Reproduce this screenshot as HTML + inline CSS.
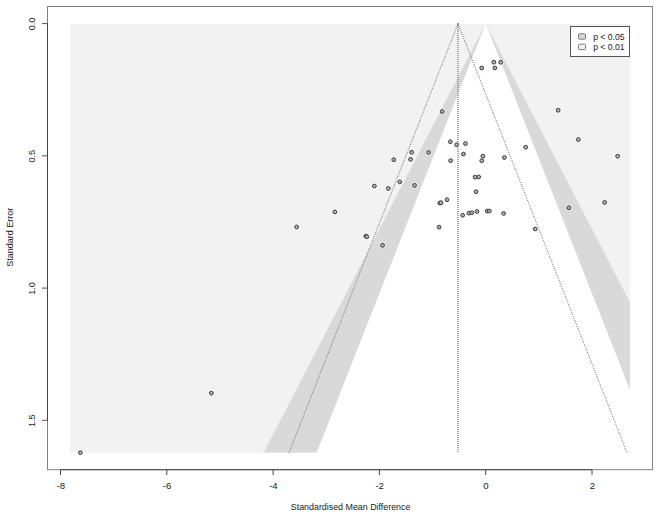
<!DOCTYPE html>
<html><head><meta charset="utf-8"><style>
html,body{margin:0;padding:0;background:#fff;}
body{width:660px;height:517px;overflow:hidden;font-family:"Liberation Sans",sans-serif;}
svg{display:block;}
</style></head><body>
<svg width="660" height="517" viewBox="0 0 660 517">
<defs><clipPath id="c"><rect x="70.00" y="24.00" width="560.00" height="438.60"/></clipPath></defs>
<rect width="660" height="517" fill="#fff"/>
<rect x="70.0" y="24.0" width="560.00" height="433.60" fill="#f2f2f2"/>
<g clip-path="url(#c)">
<polygon points="485.70,23.60 252.55,474.05 718.85,474.05" fill="#d9d9d9"/>
<polygon points="485.70,23.60 308.29,474.05 663.11,474.05" fill="#fff"/>
</g>
<rect x="69.0" y="452.60" width="562.00" height="16.40" fill="#fff"/>
<g fill="#858585">
<rect x="457.2" y="23" width="1.6" height="1" fill="#8c8c8c"/>
<rect x="457.2" y="25" width="1.6" height="1" fill="#8c8c8c"/>
<rect x="457.2" y="27" width="1.6" height="1" fill="#8c8c8c"/>
<rect x="457.2" y="29" width="1.6" height="1" fill="#8c8c8c"/>
<rect x="457.2" y="31" width="1.6" height="1" fill="#8c8c8c"/>
<rect x="457.2" y="33" width="1.6" height="1" fill="#8c8c8c"/>
<rect x="457.2" y="35" width="1.6" height="1" fill="#8c8c8c"/>
<rect x="457.2" y="37" width="1.6" height="1" fill="#8c8c8c"/>
<rect x="457.2" y="39" width="1.6" height="1" fill="#8c8c8c"/>
<rect x="457.2" y="41" width="1.6" height="1" fill="#8c8c8c"/>
<rect x="457.2" y="43" width="1.6" height="1" fill="#8c8c8c"/>
<rect x="457.2" y="45" width="1.6" height="1" fill="#8c8c8c"/>
<rect x="457.2" y="47" width="1.6" height="1" fill="#8c8c8c"/>
<rect x="457.2" y="49" width="1.6" height="1" fill="#8c8c8c"/>
<rect x="457.2" y="51" width="1.6" height="1" fill="#8c8c8c"/>
<rect x="457.2" y="53" width="1.6" height="1" fill="#8c8c8c"/>
<rect x="457.2" y="55" width="1.6" height="1" fill="#8c8c8c"/>
<rect x="457.2" y="57" width="1.6" height="1" fill="#8c8c8c"/>
<rect x="457.2" y="59" width="1.6" height="1" fill="#8c8c8c"/>
<rect x="457.2" y="61" width="1.6" height="1" fill="#8c8c8c"/>
<rect x="457.2" y="63" width="1.6" height="1" fill="#8c8c8c"/>
<rect x="457.2" y="65" width="1.6" height="1" fill="#8c8c8c"/>
<rect x="457.2" y="67" width="1.6" height="1" fill="#8c8c8c"/>
<rect x="457.2" y="69" width="1.6" height="1" fill="#8c8c8c"/>
<rect x="457.2" y="71" width="1.6" height="1" fill="#8c8c8c"/>
<rect x="457.2" y="73" width="1.6" height="1" fill="#8c8c8c"/>
<rect x="457.2" y="75" width="1.6" height="1" fill="#8c8c8c"/>
<rect x="457.2" y="77" width="1.6" height="1" fill="#8c8c8c"/>
<rect x="457.2" y="79" width="1.6" height="1" fill="#8c8c8c"/>
<rect x="457.2" y="81" width="1.6" height="1" fill="#8c8c8c"/>
<rect x="457.2" y="83" width="1.6" height="1" fill="#8c8c8c"/>
<rect x="457.2" y="85" width="1.6" height="1" fill="#8c8c8c"/>
<rect x="457.2" y="87" width="1.6" height="1" fill="#8c8c8c"/>
<rect x="457.2" y="89" width="1.6" height="1" fill="#8c8c8c"/>
<rect x="457.2" y="91" width="1.6" height="1" fill="#8c8c8c"/>
<rect x="457.2" y="93" width="1.6" height="1" fill="#8c8c8c"/>
<rect x="457.2" y="95" width="1.6" height="1" fill="#8c8c8c"/>
<rect x="457.2" y="97" width="1.6" height="1" fill="#8c8c8c"/>
<rect x="457.2" y="99" width="1.6" height="1" fill="#8c8c8c"/>
<rect x="457.2" y="101" width="1.6" height="1" fill="#8c8c8c"/>
<rect x="457.2" y="103" width="1.6" height="1" fill="#8c8c8c"/>
<rect x="457.2" y="105" width="1.6" height="1" fill="#8c8c8c"/>
<rect x="457.2" y="107" width="1.6" height="1" fill="#8c8c8c"/>
<rect x="457.2" y="109" width="1.6" height="1" fill="#8c8c8c"/>
<rect x="457.2" y="111" width="1.6" height="1" fill="#8c8c8c"/>
<rect x="457.2" y="113" width="1.6" height="1" fill="#8c8c8c"/>
<rect x="457.2" y="115" width="1.6" height="1" fill="#8c8c8c"/>
<rect x="457.2" y="117" width="1.6" height="1" fill="#8c8c8c"/>
<rect x="457.2" y="119" width="1.6" height="1" fill="#8c8c8c"/>
<rect x="457.2" y="121" width="1.6" height="1" fill="#8c8c8c"/>
<rect x="457.2" y="123" width="1.6" height="1" fill="#8c8c8c"/>
<rect x="457.2" y="125" width="1.6" height="1" fill="#8c8c8c"/>
<rect x="457.2" y="127" width="1.6" height="1" fill="#8c8c8c"/>
<rect x="457.2" y="129" width="1.6" height="1" fill="#8c8c8c"/>
<rect x="457.2" y="131" width="1.6" height="1" fill="#8c8c8c"/>
<rect x="457.2" y="133" width="1.6" height="1" fill="#8c8c8c"/>
<rect x="457.2" y="135" width="1.6" height="1" fill="#8c8c8c"/>
<rect x="457.2" y="137" width="1.6" height="1" fill="#8c8c8c"/>
<rect x="457.2" y="139" width="1.6" height="1" fill="#8c8c8c"/>
<rect x="457.2" y="141" width="1.6" height="1" fill="#8c8c8c"/>
<rect x="457.2" y="143" width="1.6" height="1" fill="#8c8c8c"/>
<rect x="457.2" y="145" width="1.6" height="1" fill="#8c8c8c"/>
<rect x="457.2" y="147" width="1.6" height="1" fill="#8c8c8c"/>
<rect x="457.2" y="149" width="1.6" height="1" fill="#8c8c8c"/>
<rect x="457.2" y="151" width="1.6" height="1" fill="#8c8c8c"/>
<rect x="457.2" y="153" width="1.6" height="1" fill="#8c8c8c"/>
<rect x="457.2" y="155" width="1.6" height="1" fill="#8c8c8c"/>
<rect x="457.2" y="157" width="1.6" height="1" fill="#8c8c8c"/>
<rect x="457.2" y="159" width="1.6" height="1" fill="#8c8c8c"/>
<rect x="457.2" y="161" width="1.6" height="1" fill="#8c8c8c"/>
<rect x="457.2" y="163" width="1.6" height="1" fill="#8c8c8c"/>
<rect x="457.2" y="165" width="1.6" height="1" fill="#8c8c8c"/>
<rect x="457.2" y="167" width="1.6" height="1" fill="#8c8c8c"/>
<rect x="457.2" y="169" width="1.6" height="1" fill="#8c8c8c"/>
<rect x="457.2" y="171" width="1.6" height="1" fill="#8c8c8c"/>
<rect x="457.2" y="173" width="1.6" height="1" fill="#8c8c8c"/>
<rect x="457.2" y="175" width="1.6" height="1" fill="#8c8c8c"/>
<rect x="457.2" y="177" width="1.6" height="1" fill="#8c8c8c"/>
<rect x="457.2" y="179" width="1.6" height="1" fill="#8c8c8c"/>
<rect x="457.2" y="181" width="1.6" height="1" fill="#8c8c8c"/>
<rect x="457.2" y="183" width="1.6" height="1" fill="#8c8c8c"/>
<rect x="457.2" y="185" width="1.6" height="1" fill="#8c8c8c"/>
<rect x="457.2" y="187" width="1.6" height="1" fill="#8c8c8c"/>
<rect x="457.2" y="189" width="1.6" height="1" fill="#8c8c8c"/>
<rect x="457.2" y="191" width="1.6" height="1" fill="#8c8c8c"/>
<rect x="457.2" y="193" width="1.6" height="1" fill="#8c8c8c"/>
<rect x="457.2" y="195" width="1.6" height="1" fill="#8c8c8c"/>
<rect x="457.2" y="197" width="1.6" height="1" fill="#8c8c8c"/>
<rect x="457.2" y="199" width="1.6" height="1" fill="#8c8c8c"/>
<rect x="457.2" y="201" width="1.6" height="1" fill="#8c8c8c"/>
<rect x="457.2" y="203" width="1.6" height="1" fill="#8c8c8c"/>
<rect x="457.2" y="205" width="1.6" height="1" fill="#8c8c8c"/>
<rect x="457.2" y="207" width="1.6" height="1" fill="#8c8c8c"/>
<rect x="457.2" y="209" width="1.6" height="1" fill="#8c8c8c"/>
<rect x="457.2" y="211" width="1.6" height="1" fill="#8c8c8c"/>
<rect x="457.2" y="213" width="1.6" height="1" fill="#8c8c8c"/>
<rect x="457.2" y="215" width="1.6" height="1" fill="#8c8c8c"/>
<rect x="457.2" y="217" width="1.6" height="1" fill="#8c8c8c"/>
<rect x="457.2" y="219" width="1.6" height="1" fill="#8c8c8c"/>
<rect x="457.2" y="221" width="1.6" height="1" fill="#8c8c8c"/>
<rect x="457.2" y="223" width="1.6" height="1" fill="#8c8c8c"/>
<rect x="457.2" y="225" width="1.6" height="1" fill="#8c8c8c"/>
<rect x="457.2" y="227" width="1.6" height="1" fill="#8c8c8c"/>
<rect x="457.2" y="229" width="1.6" height="1" fill="#8c8c8c"/>
<rect x="457.2" y="231" width="1.6" height="1" fill="#8c8c8c"/>
<rect x="457.2" y="233" width="1.6" height="1" fill="#8c8c8c"/>
<rect x="457.2" y="235" width="1.6" height="1" fill="#8c8c8c"/>
<rect x="457.2" y="237" width="1.6" height="1" fill="#8c8c8c"/>
<rect x="457.2" y="239" width="1.6" height="1" fill="#8c8c8c"/>
<rect x="457.2" y="241" width="1.6" height="1" fill="#8c8c8c"/>
<rect x="457.2" y="243" width="1.6" height="1" fill="#8c8c8c"/>
<rect x="457.2" y="245" width="1.6" height="1" fill="#8c8c8c"/>
<rect x="457.2" y="247" width="1.6" height="1" fill="#8c8c8c"/>
<rect x="457.2" y="249" width="1.6" height="1" fill="#8c8c8c"/>
<rect x="457.2" y="251" width="1.6" height="1" fill="#8c8c8c"/>
<rect x="457.2" y="253" width="1.6" height="1" fill="#8c8c8c"/>
<rect x="457.2" y="255" width="1.6" height="1" fill="#8c8c8c"/>
<rect x="457.2" y="257" width="1.6" height="1" fill="#8c8c8c"/>
<rect x="457.2" y="259" width="1.6" height="1" fill="#8c8c8c"/>
<rect x="457.2" y="261" width="1.6" height="1" fill="#8c8c8c"/>
<rect x="457.2" y="263" width="1.6" height="1" fill="#8c8c8c"/>
<rect x="457.2" y="265" width="1.6" height="1" fill="#8c8c8c"/>
<rect x="457.2" y="267" width="1.6" height="1" fill="#8c8c8c"/>
<rect x="457.2" y="269" width="1.6" height="1" fill="#8c8c8c"/>
<rect x="457.2" y="271" width="1.6" height="1" fill="#8c8c8c"/>
<rect x="457.2" y="273" width="1.6" height="1" fill="#8c8c8c"/>
<rect x="457.2" y="275" width="1.6" height="1" fill="#8c8c8c"/>
<rect x="457.2" y="277" width="1.6" height="1" fill="#8c8c8c"/>
<rect x="457.2" y="279" width="1.6" height="1" fill="#8c8c8c"/>
<rect x="457.2" y="281" width="1.6" height="1" fill="#8c8c8c"/>
<rect x="457.2" y="283" width="1.6" height="1" fill="#8c8c8c"/>
<rect x="457.2" y="285" width="1.6" height="1" fill="#8c8c8c"/>
<rect x="457.2" y="287" width="1.6" height="1" fill="#8c8c8c"/>
<rect x="457.2" y="289" width="1.6" height="1" fill="#8c8c8c"/>
<rect x="457.2" y="291" width="1.6" height="1" fill="#8c8c8c"/>
<rect x="457.2" y="293" width="1.6" height="1" fill="#8c8c8c"/>
<rect x="457.2" y="295" width="1.6" height="1" fill="#8c8c8c"/>
<rect x="457.2" y="297" width="1.6" height="1" fill="#8c8c8c"/>
<rect x="457.2" y="299" width="1.6" height="1" fill="#8c8c8c"/>
<rect x="457.2" y="301" width="1.6" height="1" fill="#8c8c8c"/>
<rect x="457.2" y="303" width="1.6" height="1" fill="#8c8c8c"/>
<rect x="457.2" y="305" width="1.6" height="1" fill="#8c8c8c"/>
<rect x="457.2" y="307" width="1.6" height="1" fill="#8c8c8c"/>
<rect x="457.2" y="309" width="1.6" height="1" fill="#8c8c8c"/>
<rect x="457.2" y="311" width="1.6" height="1" fill="#8c8c8c"/>
<rect x="457.2" y="313" width="1.6" height="1" fill="#8c8c8c"/>
<rect x="457.2" y="315" width="1.6" height="1" fill="#8c8c8c"/>
<rect x="457.2" y="317" width="1.6" height="1" fill="#8c8c8c"/>
<rect x="457.2" y="319" width="1.6" height="1" fill="#8c8c8c"/>
<rect x="457.2" y="321" width="1.6" height="1" fill="#8c8c8c"/>
<rect x="457.2" y="323" width="1.6" height="1" fill="#8c8c8c"/>
<rect x="457.2" y="325" width="1.6" height="1" fill="#8c8c8c"/>
<rect x="457.2" y="327" width="1.6" height="1" fill="#8c8c8c"/>
<rect x="457.2" y="329" width="1.6" height="1" fill="#8c8c8c"/>
<rect x="457.2" y="331" width="1.6" height="1" fill="#8c8c8c"/>
<rect x="457.2" y="333" width="1.6" height="1" fill="#8c8c8c"/>
<rect x="457.2" y="335" width="1.6" height="1" fill="#8c8c8c"/>
<rect x="457.2" y="337" width="1.6" height="1" fill="#8c8c8c"/>
<rect x="457.2" y="339" width="1.6" height="1" fill="#8c8c8c"/>
<rect x="457.2" y="341" width="1.6" height="1" fill="#8c8c8c"/>
<rect x="457.2" y="343" width="1.6" height="1" fill="#8c8c8c"/>
<rect x="457.2" y="345" width="1.6" height="1" fill="#8c8c8c"/>
<rect x="457.2" y="347" width="1.6" height="1" fill="#8c8c8c"/>
<rect x="457.2" y="349" width="1.6" height="1" fill="#8c8c8c"/>
<rect x="457.2" y="351" width="1.6" height="1" fill="#8c8c8c"/>
<rect x="457.2" y="353" width="1.6" height="1" fill="#8c8c8c"/>
<rect x="457.2" y="355" width="1.6" height="1" fill="#8c8c8c"/>
<rect x="457.2" y="357" width="1.6" height="1" fill="#8c8c8c"/>
<rect x="457.2" y="359" width="1.6" height="1" fill="#8c8c8c"/>
<rect x="457.2" y="361" width="1.6" height="1" fill="#8c8c8c"/>
<rect x="457.2" y="363" width="1.6" height="1" fill="#8c8c8c"/>
<rect x="457.2" y="365" width="1.6" height="1" fill="#8c8c8c"/>
<rect x="457.2" y="367" width="1.6" height="1" fill="#8c8c8c"/>
<rect x="457.2" y="369" width="1.6" height="1" fill="#8c8c8c"/>
<rect x="457.2" y="371" width="1.6" height="1" fill="#8c8c8c"/>
<rect x="457.2" y="373" width="1.6" height="1" fill="#8c8c8c"/>
<rect x="457.2" y="375" width="1.6" height="1" fill="#8c8c8c"/>
<rect x="457.2" y="377" width="1.6" height="1" fill="#8c8c8c"/>
<rect x="457.2" y="379" width="1.6" height="1" fill="#8c8c8c"/>
<rect x="457.2" y="381" width="1.6" height="1" fill="#8c8c8c"/>
<rect x="457.2" y="383" width="1.6" height="1" fill="#8c8c8c"/>
<rect x="457.2" y="385" width="1.6" height="1" fill="#8c8c8c"/>
<rect x="457.2" y="387" width="1.6" height="1" fill="#8c8c8c"/>
<rect x="457.2" y="389" width="1.6" height="1" fill="#8c8c8c"/>
<rect x="457.2" y="391" width="1.6" height="1" fill="#8c8c8c"/>
<rect x="457.2" y="393" width="1.6" height="1" fill="#8c8c8c"/>
<rect x="457.2" y="395" width="1.6" height="1" fill="#8c8c8c"/>
<rect x="457.2" y="397" width="1.6" height="1" fill="#8c8c8c"/>
<rect x="457.2" y="399" width="1.6" height="1" fill="#8c8c8c"/>
<rect x="457.2" y="401" width="1.6" height="1" fill="#8c8c8c"/>
<rect x="457.2" y="403" width="1.6" height="1" fill="#8c8c8c"/>
<rect x="457.2" y="405" width="1.6" height="1" fill="#8c8c8c"/>
<rect x="457.2" y="407" width="1.6" height="1" fill="#8c8c8c"/>
<rect x="457.2" y="409" width="1.6" height="1" fill="#8c8c8c"/>
<rect x="457.2" y="411" width="1.6" height="1" fill="#8c8c8c"/>
<rect x="457.2" y="413" width="1.6" height="1" fill="#8c8c8c"/>
<rect x="457.2" y="415" width="1.6" height="1" fill="#8c8c8c"/>
<rect x="457.2" y="417" width="1.6" height="1" fill="#8c8c8c"/>
<rect x="457.2" y="419" width="1.6" height="1" fill="#8c8c8c"/>
<rect x="457.2" y="421" width="1.6" height="1" fill="#8c8c8c"/>
<rect x="457.2" y="423" width="1.6" height="1" fill="#8c8c8c"/>
<rect x="457.2" y="425" width="1.6" height="1" fill="#8c8c8c"/>
<rect x="457.2" y="427" width="1.6" height="1" fill="#8c8c8c"/>
<rect x="457.2" y="429" width="1.6" height="1" fill="#8c8c8c"/>
<rect x="457.2" y="431" width="1.6" height="1" fill="#8c8c8c"/>
<rect x="457.2" y="433" width="1.6" height="1" fill="#8c8c8c"/>
<rect x="457.2" y="435" width="1.6" height="1" fill="#8c8c8c"/>
<rect x="457.2" y="437" width="1.6" height="1" fill="#8c8c8c"/>
<rect x="457.2" y="439" width="1.6" height="1" fill="#8c8c8c"/>
<rect x="457.2" y="441" width="1.6" height="1" fill="#8c8c8c"/>
<rect x="457.2" y="443" width="1.6" height="1" fill="#8c8c8c"/>
<rect x="457.2" y="445" width="1.6" height="1" fill="#8c8c8c"/>
<rect x="457.2" y="447" width="1.6" height="1" fill="#8c8c8c"/>
<rect x="457.2" y="449" width="1.6" height="1" fill="#8c8c8c"/>
<rect x="457.2" y="451" width="1.6" height="1" fill="#8c8c8c"/>
<circle cx="457.68" cy="24.40" r="0.56"/>
<circle cx="458.32" cy="24.40" r="0.56"/>
<circle cx="456.90" cy="26.40" r="0.56"/>
<circle cx="459.10" cy="26.40" r="0.56"/>
<circle cx="456.11" cy="28.40" r="0.56"/>
<circle cx="459.89" cy="28.40" r="0.56"/>
<circle cx="455.32" cy="30.40" r="0.56"/>
<circle cx="460.68" cy="30.40" r="0.56"/>
<circle cx="454.53" cy="32.40" r="0.56"/>
<circle cx="461.47" cy="32.40" r="0.56"/>
<circle cx="453.75" cy="34.40" r="0.56"/>
<circle cx="462.25" cy="34.40" r="0.56"/>
<circle cx="452.96" cy="36.40" r="0.56"/>
<circle cx="463.04" cy="36.40" r="0.56"/>
<circle cx="452.17" cy="38.40" r="0.56"/>
<circle cx="463.83" cy="38.40" r="0.56"/>
<circle cx="451.38" cy="40.40" r="0.56"/>
<circle cx="464.62" cy="40.40" r="0.56"/>
<circle cx="450.60" cy="42.40" r="0.56"/>
<circle cx="465.40" cy="42.40" r="0.56"/>
<circle cx="449.81" cy="44.40" r="0.56"/>
<circle cx="466.19" cy="44.40" r="0.56"/>
<circle cx="449.02" cy="46.40" r="0.56"/>
<circle cx="466.98" cy="46.40" r="0.56"/>
<circle cx="448.23" cy="48.40" r="0.56"/>
<circle cx="467.77" cy="48.40" r="0.56"/>
<circle cx="447.44" cy="50.40" r="0.56"/>
<circle cx="468.56" cy="50.40" r="0.56"/>
<circle cx="446.66" cy="52.40" r="0.56"/>
<circle cx="469.34" cy="52.40" r="0.56"/>
<circle cx="445.87" cy="54.40" r="0.56"/>
<circle cx="470.13" cy="54.40" r="0.56"/>
<circle cx="445.08" cy="56.40" r="0.56"/>
<circle cx="470.92" cy="56.40" r="0.56"/>
<circle cx="444.29" cy="58.40" r="0.56"/>
<circle cx="471.71" cy="58.40" r="0.56"/>
<circle cx="443.51" cy="60.40" r="0.56"/>
<circle cx="472.49" cy="60.40" r="0.56"/>
<circle cx="442.72" cy="62.40" r="0.56"/>
<circle cx="473.28" cy="62.40" r="0.56"/>
<circle cx="441.93" cy="64.40" r="0.56"/>
<circle cx="474.07" cy="64.40" r="0.56"/>
<circle cx="441.14" cy="66.40" r="0.56"/>
<circle cx="474.86" cy="66.40" r="0.56"/>
<circle cx="440.36" cy="68.40" r="0.56"/>
<circle cx="475.64" cy="68.40" r="0.56"/>
<circle cx="439.57" cy="70.40" r="0.56"/>
<circle cx="476.43" cy="70.40" r="0.56"/>
<circle cx="438.78" cy="72.40" r="0.56"/>
<circle cx="477.22" cy="72.40" r="0.56"/>
<circle cx="437.99" cy="74.40" r="0.56"/>
<circle cx="478.01" cy="74.40" r="0.56"/>
<circle cx="437.20" cy="76.40" r="0.56"/>
<circle cx="478.80" cy="76.40" r="0.56"/>
<circle cx="436.42" cy="78.40" r="0.56"/>
<circle cx="479.58" cy="78.40" r="0.56"/>
<circle cx="435.63" cy="80.40" r="0.56"/>
<circle cx="480.37" cy="80.40" r="0.56"/>
<circle cx="434.84" cy="82.40" r="0.56"/>
<circle cx="481.16" cy="82.40" r="0.56"/>
<circle cx="434.05" cy="84.40" r="0.56"/>
<circle cx="481.95" cy="84.40" r="0.56"/>
<circle cx="433.27" cy="86.40" r="0.56"/>
<circle cx="482.73" cy="86.40" r="0.56"/>
<circle cx="432.48" cy="88.40" r="0.56"/>
<circle cx="483.52" cy="88.40" r="0.56"/>
<circle cx="431.69" cy="90.40" r="0.56"/>
<circle cx="484.31" cy="90.40" r="0.56"/>
<circle cx="430.90" cy="92.40" r="0.56"/>
<circle cx="485.10" cy="92.40" r="0.56"/>
<circle cx="430.12" cy="94.40" r="0.56"/>
<circle cx="485.88" cy="94.40" r="0.56"/>
<circle cx="429.33" cy="96.40" r="0.56"/>
<circle cx="486.67" cy="96.40" r="0.56"/>
<circle cx="428.54" cy="98.40" r="0.56"/>
<circle cx="487.46" cy="98.40" r="0.56"/>
<circle cx="427.75" cy="100.40" r="0.56"/>
<circle cx="488.25" cy="100.40" r="0.56"/>
<circle cx="426.96" cy="102.40" r="0.56"/>
<circle cx="489.04" cy="102.40" r="0.56"/>
<circle cx="426.18" cy="104.40" r="0.56"/>
<circle cx="489.82" cy="104.40" r="0.56"/>
<circle cx="425.39" cy="106.40" r="0.56"/>
<circle cx="490.61" cy="106.40" r="0.56"/>
<circle cx="424.60" cy="108.40" r="0.56"/>
<circle cx="491.40" cy="108.40" r="0.56"/>
<circle cx="423.81" cy="110.40" r="0.56"/>
<circle cx="492.19" cy="110.40" r="0.56"/>
<circle cx="423.03" cy="112.40" r="0.56"/>
<circle cx="492.97" cy="112.40" r="0.56"/>
<circle cx="422.24" cy="114.40" r="0.56"/>
<circle cx="493.76" cy="114.40" r="0.56"/>
<circle cx="421.45" cy="116.40" r="0.56"/>
<circle cx="494.55" cy="116.40" r="0.56"/>
<circle cx="420.66" cy="118.40" r="0.56"/>
<circle cx="495.34" cy="118.40" r="0.56"/>
<circle cx="419.88" cy="120.40" r="0.56"/>
<circle cx="496.12" cy="120.40" r="0.56"/>
<circle cx="419.09" cy="122.40" r="0.56"/>
<circle cx="496.91" cy="122.40" r="0.56"/>
<circle cx="418.30" cy="124.40" r="0.56"/>
<circle cx="497.70" cy="124.40" r="0.56"/>
<circle cx="417.51" cy="126.40" r="0.56"/>
<circle cx="498.49" cy="126.40" r="0.56"/>
<circle cx="416.72" cy="128.40" r="0.56"/>
<circle cx="499.28" cy="128.40" r="0.56"/>
<circle cx="415.94" cy="130.40" r="0.56"/>
<circle cx="500.06" cy="130.40" r="0.56"/>
<circle cx="415.15" cy="132.40" r="0.56"/>
<circle cx="500.85" cy="132.40" r="0.56"/>
<circle cx="414.36" cy="134.40" r="0.56"/>
<circle cx="501.64" cy="134.40" r="0.56"/>
<circle cx="413.57" cy="136.40" r="0.56"/>
<circle cx="502.43" cy="136.40" r="0.56"/>
<circle cx="412.79" cy="138.40" r="0.56"/>
<circle cx="503.21" cy="138.40" r="0.56"/>
<circle cx="412.00" cy="140.40" r="0.56"/>
<circle cx="504.00" cy="140.40" r="0.56"/>
<circle cx="411.21" cy="142.40" r="0.56"/>
<circle cx="504.79" cy="142.40" r="0.56"/>
<circle cx="410.42" cy="144.40" r="0.56"/>
<circle cx="505.58" cy="144.40" r="0.56"/>
<circle cx="409.63" cy="146.40" r="0.56"/>
<circle cx="506.37" cy="146.40" r="0.56"/>
<circle cx="408.85" cy="148.40" r="0.56"/>
<circle cx="507.15" cy="148.40" r="0.56"/>
<circle cx="408.06" cy="150.40" r="0.56"/>
<circle cx="507.94" cy="150.40" r="0.56"/>
<circle cx="407.27" cy="152.40" r="0.56"/>
<circle cx="508.73" cy="152.40" r="0.56"/>
<circle cx="406.48" cy="154.40" r="0.56"/>
<circle cx="509.52" cy="154.40" r="0.56"/>
<circle cx="405.70" cy="156.40" r="0.56"/>
<circle cx="510.30" cy="156.40" r="0.56"/>
<circle cx="404.91" cy="158.40" r="0.56"/>
<circle cx="511.09" cy="158.40" r="0.56"/>
<circle cx="404.12" cy="160.40" r="0.56"/>
<circle cx="511.88" cy="160.40" r="0.56"/>
<circle cx="403.33" cy="162.40" r="0.56"/>
<circle cx="512.67" cy="162.40" r="0.56"/>
<circle cx="402.55" cy="164.40" r="0.56"/>
<circle cx="513.45" cy="164.40" r="0.56"/>
<circle cx="401.76" cy="166.40" r="0.56"/>
<circle cx="514.24" cy="166.40" r="0.56"/>
<circle cx="400.97" cy="168.40" r="0.56"/>
<circle cx="515.03" cy="168.40" r="0.56"/>
<circle cx="400.18" cy="170.40" r="0.56"/>
<circle cx="515.82" cy="170.40" r="0.56"/>
<circle cx="399.39" cy="172.40" r="0.56"/>
<circle cx="516.61" cy="172.40" r="0.56"/>
<circle cx="398.61" cy="174.40" r="0.56"/>
<circle cx="517.39" cy="174.40" r="0.56"/>
<circle cx="397.82" cy="176.40" r="0.56"/>
<circle cx="518.18" cy="176.40" r="0.56"/>
<circle cx="397.03" cy="178.40" r="0.56"/>
<circle cx="518.97" cy="178.40" r="0.56"/>
<circle cx="396.24" cy="180.40" r="0.56"/>
<circle cx="519.76" cy="180.40" r="0.56"/>
<circle cx="395.46" cy="182.40" r="0.56"/>
<circle cx="520.54" cy="182.40" r="0.56"/>
<circle cx="394.67" cy="184.40" r="0.56"/>
<circle cx="521.33" cy="184.40" r="0.56"/>
<circle cx="393.88" cy="186.40" r="0.56"/>
<circle cx="522.12" cy="186.40" r="0.56"/>
<circle cx="393.09" cy="188.40" r="0.56"/>
<circle cx="522.91" cy="188.40" r="0.56"/>
<circle cx="392.31" cy="190.40" r="0.56"/>
<circle cx="523.69" cy="190.40" r="0.56"/>
<circle cx="391.52" cy="192.40" r="0.56"/>
<circle cx="524.48" cy="192.40" r="0.56"/>
<circle cx="390.73" cy="194.40" r="0.56"/>
<circle cx="525.27" cy="194.40" r="0.56"/>
<circle cx="389.94" cy="196.40" r="0.56"/>
<circle cx="526.06" cy="196.40" r="0.56"/>
<circle cx="389.15" cy="198.40" r="0.56"/>
<circle cx="526.85" cy="198.40" r="0.56"/>
<circle cx="388.37" cy="200.40" r="0.56"/>
<circle cx="527.63" cy="200.40" r="0.56"/>
<circle cx="387.58" cy="202.40" r="0.56"/>
<circle cx="528.42" cy="202.40" r="0.56"/>
<circle cx="386.79" cy="204.40" r="0.56"/>
<circle cx="529.21" cy="204.40" r="0.56"/>
<circle cx="386.00" cy="206.40" r="0.56"/>
<circle cx="530.00" cy="206.40" r="0.56"/>
<circle cx="385.22" cy="208.40" r="0.56"/>
<circle cx="530.78" cy="208.40" r="0.56"/>
<circle cx="384.43" cy="210.40" r="0.56"/>
<circle cx="531.57" cy="210.40" r="0.56"/>
<circle cx="383.64" cy="212.40" r="0.56"/>
<circle cx="532.36" cy="212.40" r="0.56"/>
<circle cx="382.85" cy="214.40" r="0.56"/>
<circle cx="533.15" cy="214.40" r="0.56"/>
<circle cx="382.07" cy="216.40" r="0.56"/>
<circle cx="533.93" cy="216.40" r="0.56"/>
<circle cx="381.28" cy="218.40" r="0.56"/>
<circle cx="534.72" cy="218.40" r="0.56"/>
<circle cx="380.49" cy="220.40" r="0.56"/>
<circle cx="535.51" cy="220.40" r="0.56"/>
<circle cx="379.70" cy="222.40" r="0.56"/>
<circle cx="536.30" cy="222.40" r="0.56"/>
<circle cx="378.91" cy="224.40" r="0.56"/>
<circle cx="537.09" cy="224.40" r="0.56"/>
<circle cx="378.13" cy="226.40" r="0.56"/>
<circle cx="537.87" cy="226.40" r="0.56"/>
<circle cx="377.34" cy="228.40" r="0.56"/>
<circle cx="538.66" cy="228.40" r="0.56"/>
<circle cx="376.55" cy="230.40" r="0.56"/>
<circle cx="539.45" cy="230.40" r="0.56"/>
<circle cx="375.76" cy="232.40" r="0.56"/>
<circle cx="540.24" cy="232.40" r="0.56"/>
<circle cx="374.98" cy="234.40" r="0.56"/>
<circle cx="541.02" cy="234.40" r="0.56"/>
<circle cx="374.19" cy="236.40" r="0.56"/>
<circle cx="541.81" cy="236.40" r="0.56"/>
<circle cx="373.40" cy="238.40" r="0.56"/>
<circle cx="542.60" cy="238.40" r="0.56"/>
<circle cx="372.61" cy="240.40" r="0.56"/>
<circle cx="543.39" cy="240.40" r="0.56"/>
<circle cx="371.83" cy="242.40" r="0.56"/>
<circle cx="544.17" cy="242.40" r="0.56"/>
<circle cx="371.04" cy="244.40" r="0.56"/>
<circle cx="544.96" cy="244.40" r="0.56"/>
<circle cx="370.25" cy="246.40" r="0.56"/>
<circle cx="545.75" cy="246.40" r="0.56"/>
<circle cx="369.46" cy="248.40" r="0.56"/>
<circle cx="546.54" cy="248.40" r="0.56"/>
<circle cx="368.67" cy="250.40" r="0.56"/>
<circle cx="547.33" cy="250.40" r="0.56"/>
<circle cx="367.89" cy="252.40" r="0.56"/>
<circle cx="548.11" cy="252.40" r="0.56"/>
<circle cx="367.10" cy="254.40" r="0.56"/>
<circle cx="548.90" cy="254.40" r="0.56"/>
<circle cx="366.31" cy="256.40" r="0.56"/>
<circle cx="549.69" cy="256.40" r="0.56"/>
<circle cx="365.52" cy="258.40" r="0.56"/>
<circle cx="550.48" cy="258.40" r="0.56"/>
<circle cx="364.74" cy="260.40" r="0.56"/>
<circle cx="551.26" cy="260.40" r="0.56"/>
<circle cx="363.95" cy="262.40" r="0.56"/>
<circle cx="552.05" cy="262.40" r="0.56"/>
<circle cx="363.16" cy="264.40" r="0.56"/>
<circle cx="552.84" cy="264.40" r="0.56"/>
<circle cx="362.37" cy="266.40" r="0.56"/>
<circle cx="553.63" cy="266.40" r="0.56"/>
<circle cx="361.58" cy="268.40" r="0.56"/>
<circle cx="554.42" cy="268.40" r="0.56"/>
<circle cx="360.80" cy="270.40" r="0.56"/>
<circle cx="555.20" cy="270.40" r="0.56"/>
<circle cx="360.01" cy="272.40" r="0.56"/>
<circle cx="555.99" cy="272.40" r="0.56"/>
<circle cx="359.22" cy="274.40" r="0.56"/>
<circle cx="556.78" cy="274.40" r="0.56"/>
<circle cx="358.43" cy="276.40" r="0.56"/>
<circle cx="557.57" cy="276.40" r="0.56"/>
<circle cx="357.65" cy="278.40" r="0.56"/>
<circle cx="558.35" cy="278.40" r="0.56"/>
<circle cx="356.86" cy="280.40" r="0.56"/>
<circle cx="559.14" cy="280.40" r="0.56"/>
<circle cx="356.07" cy="282.40" r="0.56"/>
<circle cx="559.93" cy="282.40" r="0.56"/>
<circle cx="355.28" cy="284.40" r="0.56"/>
<circle cx="560.72" cy="284.40" r="0.56"/>
<circle cx="354.50" cy="286.40" r="0.56"/>
<circle cx="561.50" cy="286.40" r="0.56"/>
<circle cx="353.71" cy="288.40" r="0.56"/>
<circle cx="562.29" cy="288.40" r="0.56"/>
<circle cx="352.92" cy="290.40" r="0.56"/>
<circle cx="563.08" cy="290.40" r="0.56"/>
<circle cx="352.13" cy="292.40" r="0.56"/>
<circle cx="563.87" cy="292.40" r="0.56"/>
<circle cx="351.34" cy="294.40" r="0.56"/>
<circle cx="564.66" cy="294.40" r="0.56"/>
<circle cx="350.56" cy="296.40" r="0.56"/>
<circle cx="565.44" cy="296.40" r="0.56"/>
<circle cx="349.77" cy="298.40" r="0.56"/>
<circle cx="566.23" cy="298.40" r="0.56"/>
<circle cx="348.98" cy="300.40" r="0.56"/>
<circle cx="567.02" cy="300.40" r="0.56"/>
<circle cx="348.19" cy="302.40" r="0.56"/>
<circle cx="567.81" cy="302.40" r="0.56"/>
<circle cx="347.41" cy="304.40" r="0.56"/>
<circle cx="568.59" cy="304.40" r="0.56"/>
<circle cx="346.62" cy="306.40" r="0.56"/>
<circle cx="569.38" cy="306.40" r="0.56"/>
<circle cx="345.83" cy="308.40" r="0.56"/>
<circle cx="570.17" cy="308.40" r="0.56"/>
<circle cx="345.04" cy="310.40" r="0.56"/>
<circle cx="570.96" cy="310.40" r="0.56"/>
<circle cx="344.26" cy="312.40" r="0.56"/>
<circle cx="571.74" cy="312.40" r="0.56"/>
<circle cx="343.47" cy="314.40" r="0.56"/>
<circle cx="572.53" cy="314.40" r="0.56"/>
<circle cx="342.68" cy="316.40" r="0.56"/>
<circle cx="573.32" cy="316.40" r="0.56"/>
<circle cx="341.89" cy="318.40" r="0.56"/>
<circle cx="574.11" cy="318.40" r="0.56"/>
<circle cx="341.10" cy="320.40" r="0.56"/>
<circle cx="574.90" cy="320.40" r="0.56"/>
<circle cx="340.32" cy="322.40" r="0.56"/>
<circle cx="575.68" cy="322.40" r="0.56"/>
<circle cx="339.53" cy="324.40" r="0.56"/>
<circle cx="576.47" cy="324.40" r="0.56"/>
<circle cx="338.74" cy="326.40" r="0.56"/>
<circle cx="577.26" cy="326.40" r="0.56"/>
<circle cx="337.95" cy="328.40" r="0.56"/>
<circle cx="578.05" cy="328.40" r="0.56"/>
<circle cx="337.17" cy="330.40" r="0.56"/>
<circle cx="578.83" cy="330.40" r="0.56"/>
<circle cx="336.38" cy="332.40" r="0.56"/>
<circle cx="579.62" cy="332.40" r="0.56"/>
<circle cx="335.59" cy="334.40" r="0.56"/>
<circle cx="580.41" cy="334.40" r="0.56"/>
<circle cx="334.80" cy="336.40" r="0.56"/>
<circle cx="581.20" cy="336.40" r="0.56"/>
<circle cx="334.02" cy="338.40" r="0.56"/>
<circle cx="581.98" cy="338.40" r="0.56"/>
<circle cx="333.23" cy="340.40" r="0.56"/>
<circle cx="582.77" cy="340.40" r="0.56"/>
<circle cx="332.44" cy="342.40" r="0.56"/>
<circle cx="583.56" cy="342.40" r="0.56"/>
<circle cx="331.65" cy="344.40" r="0.56"/>
<circle cx="584.35" cy="344.40" r="0.56"/>
<circle cx="330.86" cy="346.40" r="0.56"/>
<circle cx="585.14" cy="346.40" r="0.56"/>
<circle cx="330.08" cy="348.40" r="0.56"/>
<circle cx="585.92" cy="348.40" r="0.56"/>
<circle cx="329.29" cy="350.40" r="0.56"/>
<circle cx="586.71" cy="350.40" r="0.56"/>
<circle cx="328.50" cy="352.40" r="0.56"/>
<circle cx="587.50" cy="352.40" r="0.56"/>
<circle cx="327.71" cy="354.40" r="0.56"/>
<circle cx="588.29" cy="354.40" r="0.56"/>
<circle cx="326.93" cy="356.40" r="0.56"/>
<circle cx="589.07" cy="356.40" r="0.56"/>
<circle cx="326.14" cy="358.40" r="0.56"/>
<circle cx="589.86" cy="358.40" r="0.56"/>
<circle cx="325.35" cy="360.40" r="0.56"/>
<circle cx="590.65" cy="360.40" r="0.56"/>
<circle cx="324.56" cy="362.40" r="0.56"/>
<circle cx="591.44" cy="362.40" r="0.56"/>
<circle cx="323.78" cy="364.40" r="0.56"/>
<circle cx="592.22" cy="364.40" r="0.56"/>
<circle cx="322.99" cy="366.40" r="0.56"/>
<circle cx="593.01" cy="366.40" r="0.56"/>
<circle cx="322.20" cy="368.40" r="0.56"/>
<circle cx="593.80" cy="368.40" r="0.56"/>
<circle cx="321.41" cy="370.40" r="0.56"/>
<circle cx="594.59" cy="370.40" r="0.56"/>
<circle cx="320.62" cy="372.40" r="0.56"/>
<circle cx="595.38" cy="372.40" r="0.56"/>
<circle cx="319.84" cy="374.40" r="0.56"/>
<circle cx="596.16" cy="374.40" r="0.56"/>
<circle cx="319.05" cy="376.40" r="0.56"/>
<circle cx="596.95" cy="376.40" r="0.56"/>
<circle cx="318.26" cy="378.40" r="0.56"/>
<circle cx="597.74" cy="378.40" r="0.56"/>
<circle cx="317.47" cy="380.40" r="0.56"/>
<circle cx="598.53" cy="380.40" r="0.56"/>
<circle cx="316.69" cy="382.40" r="0.56"/>
<circle cx="599.31" cy="382.40" r="0.56"/>
<circle cx="315.90" cy="384.40" r="0.56"/>
<circle cx="600.10" cy="384.40" r="0.56"/>
<circle cx="315.11" cy="386.40" r="0.56"/>
<circle cx="600.89" cy="386.40" r="0.56"/>
<circle cx="314.32" cy="388.40" r="0.56"/>
<circle cx="601.68" cy="388.40" r="0.56"/>
<circle cx="313.53" cy="390.40" r="0.56"/>
<circle cx="602.47" cy="390.40" r="0.56"/>
<circle cx="312.75" cy="392.40" r="0.56"/>
<circle cx="603.25" cy="392.40" r="0.56"/>
<circle cx="311.96" cy="394.40" r="0.56"/>
<circle cx="604.04" cy="394.40" r="0.56"/>
<circle cx="311.17" cy="396.40" r="0.56"/>
<circle cx="604.83" cy="396.40" r="0.56"/>
<circle cx="310.38" cy="398.40" r="0.56"/>
<circle cx="605.62" cy="398.40" r="0.56"/>
<circle cx="309.60" cy="400.40" r="0.56"/>
<circle cx="606.40" cy="400.40" r="0.56"/>
<circle cx="308.81" cy="402.40" r="0.56"/>
<circle cx="607.19" cy="402.40" r="0.56"/>
<circle cx="308.02" cy="404.40" r="0.56"/>
<circle cx="607.98" cy="404.40" r="0.56"/>
<circle cx="307.23" cy="406.40" r="0.56"/>
<circle cx="608.77" cy="406.40" r="0.56"/>
<circle cx="306.45" cy="408.40" r="0.56"/>
<circle cx="609.55" cy="408.40" r="0.56"/>
<circle cx="305.66" cy="410.40" r="0.56"/>
<circle cx="610.34" cy="410.40" r="0.56"/>
<circle cx="304.87" cy="412.40" r="0.56"/>
<circle cx="611.13" cy="412.40" r="0.56"/>
<circle cx="304.08" cy="414.40" r="0.56"/>
<circle cx="611.92" cy="414.40" r="0.56"/>
<circle cx="303.29" cy="416.40" r="0.56"/>
<circle cx="612.71" cy="416.40" r="0.56"/>
<circle cx="302.51" cy="418.40" r="0.56"/>
<circle cx="613.49" cy="418.40" r="0.56"/>
<circle cx="301.72" cy="420.40" r="0.56"/>
<circle cx="614.28" cy="420.40" r="0.56"/>
<circle cx="300.93" cy="422.40" r="0.56"/>
<circle cx="615.07" cy="422.40" r="0.56"/>
<circle cx="300.14" cy="424.40" r="0.56"/>
<circle cx="615.86" cy="424.40" r="0.56"/>
<circle cx="299.36" cy="426.40" r="0.56"/>
<circle cx="616.64" cy="426.40" r="0.56"/>
<circle cx="298.57" cy="428.40" r="0.56"/>
<circle cx="617.43" cy="428.40" r="0.56"/>
<circle cx="297.78" cy="430.40" r="0.56"/>
<circle cx="618.22" cy="430.40" r="0.56"/>
<circle cx="296.99" cy="432.40" r="0.56"/>
<circle cx="619.01" cy="432.40" r="0.56"/>
<circle cx="296.21" cy="434.40" r="0.56"/>
<circle cx="619.79" cy="434.40" r="0.56"/>
<circle cx="295.42" cy="436.40" r="0.56"/>
<circle cx="620.58" cy="436.40" r="0.56"/>
<circle cx="294.63" cy="438.40" r="0.56"/>
<circle cx="621.37" cy="438.40" r="0.56"/>
<circle cx="293.84" cy="440.40" r="0.56"/>
<circle cx="622.16" cy="440.40" r="0.56"/>
<circle cx="293.05" cy="442.40" r="0.56"/>
<circle cx="622.95" cy="442.40" r="0.56"/>
<circle cx="292.27" cy="444.40" r="0.56"/>
<circle cx="623.73" cy="444.40" r="0.56"/>
<circle cx="291.48" cy="446.40" r="0.56"/>
<circle cx="624.52" cy="446.40" r="0.56"/>
<circle cx="290.69" cy="448.40" r="0.56"/>
<circle cx="625.31" cy="448.40" r="0.56"/>
<circle cx="289.90" cy="450.40" r="0.56"/>
<circle cx="626.10" cy="450.40" r="0.56"/>
<circle cx="289.12" cy="452.40" r="0.56"/>
<circle cx="626.88" cy="452.40" r="0.56"/>
</g>
<g fill="none" stroke="#fff" stroke-opacity="0.4" stroke-width="1.0">
<circle cx="80.35" cy="452.65" r="3.0"/>
<circle cx="211.35" cy="393.15" r="3.0"/>
<circle cx="296.65" cy="226.95" r="3.0"/>
<circle cx="334.85" cy="211.85" r="3.0"/>
<circle cx="365.75" cy="236.05" r="3.0"/>
<circle cx="366.85" cy="236.75" r="3.0"/>
<circle cx="374.35" cy="186.05" r="3.0"/>
<circle cx="382.55" cy="245.35" r="3.0"/>
<circle cx="388.35" cy="188.45" r="3.0"/>
<circle cx="393.75" cy="159.75" r="3.0"/>
<circle cx="399.75" cy="181.85" r="3.0"/>
<circle cx="410.55" cy="159.35" r="3.0"/>
<circle cx="411.65" cy="152.25" r="3.0"/>
<circle cx="414.55" cy="185.35" r="3.0"/>
<circle cx="428.55" cy="152.35" r="3.0"/>
<circle cx="439.05" cy="227.15" r="3.0"/>
<circle cx="439.75" cy="203.15" r="3.0"/>
<circle cx="441.05" cy="202.65" r="3.0"/>
<circle cx="442.15" cy="111.55" r="3.0"/>
<circle cx="447.05" cy="199.75" r="3.0"/>
<circle cx="450.35" cy="141.75" r="3.0"/>
<circle cx="450.65" cy="160.65" r="3.0"/>
<circle cx="456.65" cy="144.75" r="3.0"/>
<circle cx="462.65" cy="215.25" r="3.0"/>
<circle cx="463.45" cy="154.05" r="3.0"/>
<circle cx="465.45" cy="143.55" r="3.0"/>
<circle cx="468.90" cy="213.15" r="3.0"/>
<circle cx="471.85" cy="212.75" r="3.0"/>
<circle cx="475.05" cy="177.15" r="3.0"/>
<circle cx="478.65" cy="176.95" r="3.0"/>
<circle cx="476.15" cy="191.75" r="3.0"/>
<circle cx="476.95" cy="211.50" r="3.0"/>
<circle cx="481.75" cy="67.95" r="3.0"/>
<circle cx="481.75" cy="160.75" r="3.0"/>
<circle cx="482.85" cy="156.25" r="3.0"/>
<circle cx="487.25" cy="211.05" r="3.0"/>
<circle cx="489.35" cy="211.05" r="3.0"/>
<circle cx="493.85" cy="62.15" r="3.0"/>
<circle cx="494.85" cy="67.95" r="3.0"/>
<circle cx="500.65" cy="62.25" r="3.0"/>
<circle cx="503.65" cy="213.45" r="3.0"/>
<circle cx="504.35" cy="157.55" r="3.0"/>
<circle cx="525.65" cy="147.25" r="3.0"/>
<circle cx="535.15" cy="228.95" r="3.0"/>
<circle cx="558.15" cy="110.25" r="3.0"/>
<circle cx="568.85" cy="207.75" r="3.0"/>
<circle cx="578.35" cy="139.55" r="3.0"/>
<circle cx="604.65" cy="202.45" r="3.0"/>
<circle cx="617.65" cy="156.25" r="3.0"/>
</g>
<g fill="#b0b0b0" stroke="#3c3c3c" stroke-width="1.0">
<circle cx="80.35" cy="452.65" r="1.9"/>
<circle cx="211.35" cy="393.15" r="1.9"/>
<circle cx="296.65" cy="226.95" r="1.9"/>
<circle cx="334.85" cy="211.85" r="1.9"/>
<circle cx="365.75" cy="236.05" r="1.9"/>
<circle cx="366.85" cy="236.75" r="1.9"/>
<circle cx="374.35" cy="186.05" r="1.9"/>
<circle cx="382.55" cy="245.35" r="1.9"/>
<circle cx="388.35" cy="188.45" r="1.9"/>
<circle cx="393.75" cy="159.75" r="1.9"/>
<circle cx="399.75" cy="181.85" r="1.9"/>
<circle cx="410.55" cy="159.35" r="1.9"/>
<circle cx="411.65" cy="152.25" r="1.9"/>
<circle cx="414.55" cy="185.35" r="1.9"/>
<circle cx="428.55" cy="152.35" r="1.9"/>
<circle cx="439.05" cy="227.15" r="1.9"/>
<circle cx="439.75" cy="203.15" r="1.9"/>
<circle cx="441.05" cy="202.65" r="1.9"/>
<circle cx="442.15" cy="111.55" r="1.9"/>
<circle cx="447.05" cy="199.75" r="1.9"/>
<circle cx="450.35" cy="141.75" r="1.9"/>
<circle cx="450.65" cy="160.65" r="1.9"/>
<circle cx="456.65" cy="144.75" r="1.9"/>
<circle cx="462.65" cy="215.25" r="1.9"/>
<circle cx="463.45" cy="154.05" r="1.9"/>
<circle cx="465.45" cy="143.55" r="1.9"/>
<circle cx="468.90" cy="213.15" r="1.9"/>
<circle cx="471.85" cy="212.75" r="1.9"/>
<circle cx="475.05" cy="177.15" r="1.9"/>
<circle cx="478.65" cy="176.95" r="1.9"/>
<circle cx="476.15" cy="191.75" r="1.9"/>
<circle cx="476.95" cy="211.50" r="1.9"/>
<circle cx="481.75" cy="67.95" r="1.9"/>
<circle cx="481.75" cy="160.75" r="1.9"/>
<circle cx="482.85" cy="156.25" r="1.9"/>
<circle cx="487.25" cy="211.05" r="1.9"/>
<circle cx="489.35" cy="211.05" r="1.9"/>
<circle cx="493.85" cy="62.15" r="1.9"/>
<circle cx="494.85" cy="67.95" r="1.9"/>
<circle cx="500.65" cy="62.25" r="1.9"/>
<circle cx="503.65" cy="213.45" r="1.9"/>
<circle cx="504.35" cy="157.55" r="1.9"/>
<circle cx="525.65" cy="147.25" r="1.9"/>
<circle cx="535.15" cy="228.95" r="1.9"/>
<circle cx="558.15" cy="110.25" r="1.9"/>
<circle cx="568.85" cy="207.75" r="1.9"/>
<circle cx="578.35" cy="139.55" r="1.9"/>
<circle cx="604.65" cy="202.45" r="1.9"/>
<circle cx="617.65" cy="156.25" r="1.9"/>
</g>
<rect x="47.5" y="6.5" width="605" height="463.2" fill="none" stroke="#808080" stroke-width="1"/>
<g stroke="#454545" stroke-width="1" fill="none">
<line x1="60.50" y1="469.7" x2="592.00" y2="469.7"/>
<line x1="60.50" y1="469.7" x2="60.50" y2="475"/>
<line x1="166.80" y1="469.7" x2="166.80" y2="475"/>
<line x1="273.10" y1="469.7" x2="273.10" y2="475"/>
<line x1="379.40" y1="469.7" x2="379.40" y2="475"/>
<line x1="485.70" y1="469.7" x2="485.70" y2="475"/>
<line x1="592.00" y1="469.7" x2="592.00" y2="475"/>
<line x1="47.5" y1="23.60" x2="47.5" y2="420.35"/>
<line x1="42" y1="23.60" x2="47.5" y2="23.60" stroke="#555"/>
<line x1="42" y1="155.85" x2="47.5" y2="155.85" stroke="#555"/>
<line x1="42" y1="288.10" x2="47.5" y2="288.10" stroke="#555"/>
<line x1="42" y1="420.35" x2="47.5" y2="420.35" stroke="#555"/>
</g>
<g font-family="Liberation Sans, sans-serif" font-size="10" fill="#1a1a1a" text-anchor="middle">
<text x="60.80" y="489.2" font-size="9.6">-8</text>
<text x="167.10" y="489.2" font-size="9.6">-6</text>
<text x="273.40" y="489.2" font-size="9.6">-4</text>
<text x="379.70" y="489.2" font-size="9.6">-2</text>
<text x="486.00" y="489.2" font-size="9.6">0</text>
<text x="592.30" y="489.2" font-size="9.6">2</text>
<text transform="translate(35.1,23.90) rotate(-90)" x="0" y="0" font-size="9.2">0.0</text>
<text transform="translate(35.1,156.15) rotate(-90)" x="0" y="0" font-size="9.2">0.5</text>
<text transform="translate(35.1,288.40) rotate(-90)" x="0" y="0" font-size="9.2">1.0</text>
<text transform="translate(35.1,420.65) rotate(-90)" x="0" y="0" font-size="9.2">1.5</text>
</g>
<text transform="translate(350.6,510.3) scale(0.955,1)" x="0" y="0" font-family="Liberation Sans, sans-serif" font-size="9.3" fill="#1a1a1a" text-anchor="middle">Standardised Mean Difference</text>
<text transform="translate(13.1,237.2) rotate(-90)" font-family="Liberation Sans, sans-serif" font-size="9" fill="#1a1a1a" text-anchor="middle">Standard Error</text>
<rect x="570.5" y="26.5" width="59" height="30" fill="#fff" stroke="#555" stroke-width="1"/>
<rect x="578.5" y="33.8" width="7" height="5.4" rx="1" fill="#d9d9d9" stroke="#666" stroke-width="0.85"/>
<rect x="578.5" y="44.2" width="7" height="5.4" rx="1" fill="#f2f2f2" stroke="#666" stroke-width="0.85"/>
<g font-family="Liberation Sans, sans-serif" font-size="8.6" fill="#1a1a1a">
<text x="593.2" y="39.6">p &lt; 0.05</text>
<text x="593.2" y="49.8">p &lt; 0.01</text>
</g>
</svg>
</body></html>
